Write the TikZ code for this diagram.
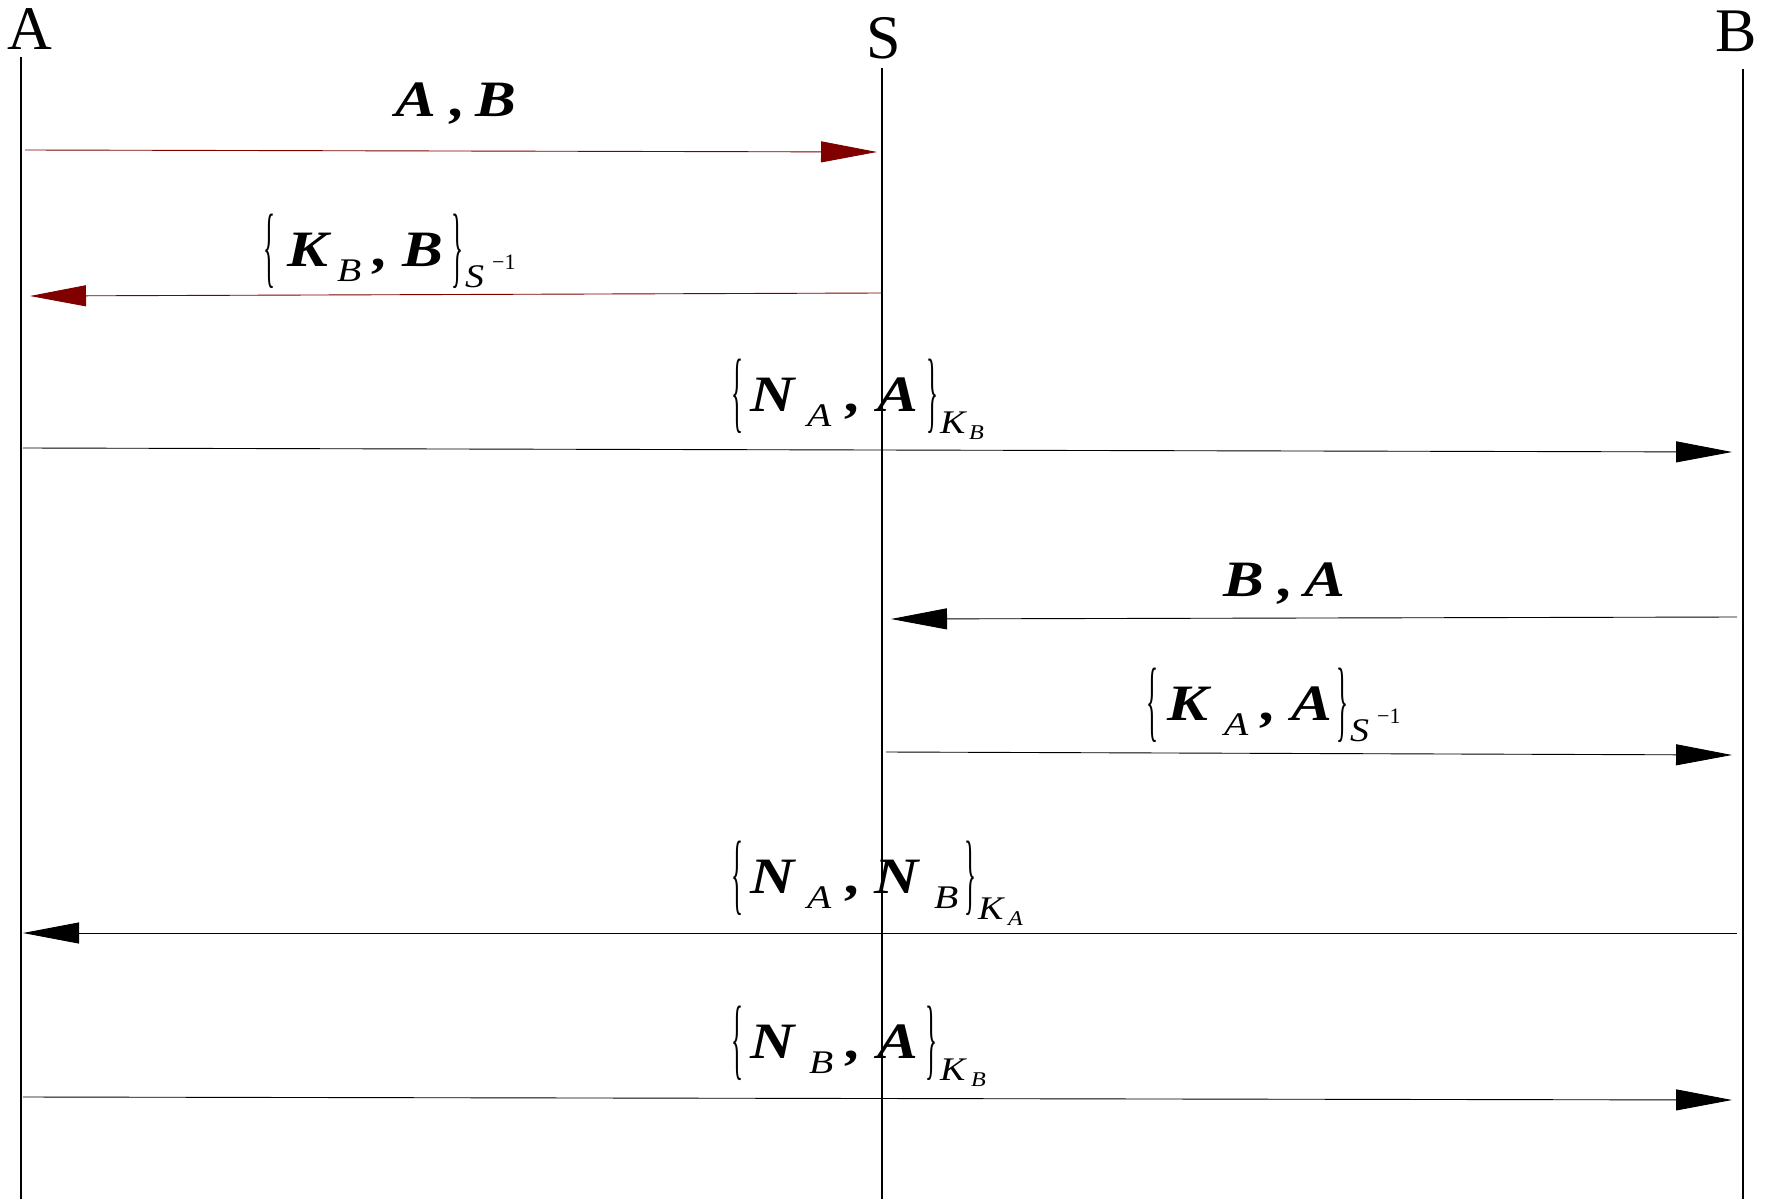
\documentclass[tikz,border=0pt]{standalone}
\usepackage{fontspec}
\setmainfont{Liberation Serif}
\usetikzlibrary{arrows.meta}
\definecolor{msgred}{RGB}{128,0,0}
% place a piece at an offset (x right, y up) from the label origin
\newcommand\pc[3]{\makebox[0pt][l]{\hspace*{#1pt}\raisebox{#2pt}{#3}}}
\newcommand\mm[1]{\scalebox{1.2}[1]{\fontsize{51}{51}\selectfont\bfseries\itshape #1}}
\newcommand\sm[1]{\scalebox{1.2}[1]{\fontsize{33}{33}\selectfont\itshape #1}}
\newcommand\ssm[1]{\scalebox{1.15}[1]{\fontsize{33}{33}\selectfont\itshape #1}}
\newcommand\sssm[1]{\scalebox{1.15}[1]{\fontsize{21}{21}\selectfont\itshape #1}}
\newcommand\supm[1]{{\fontsize{22}{22}\selectfont\upshape #1}}
\newcommand\lbr{\scalebox{0.5}[1.8]{\fontsize{50}{50}\selectfont\upshape\{}}
\newcommand\rbr{\scalebox{0.5}[1.8]{\fontsize{50}{50}\selectfont\upshape\}}}
\begin{document}
\begin{tikzpicture}[x=1pt,y=-1pt,
  lifeline/.style={line width=1.2pt,black},
  msg/.style={line width=0.9pt,-{Triangle[length=56pt,width=21pt]}},
  redmsg/.style={msg,msgred},
  head/.style={font=\fontsize{62}{62}\selectfont,anchor=base,inner sep=0pt},
  lbl/.style={anchor=base west,inner sep=0pt}]
\useasboundingbox[fill=white] (0,0) rectangle (1769,1199);
% participants
\node[head] (hA) at (30,50) {A};
\node[head] (hS) at (884,59) {S};
\node[head] (hB) at (1736,52) {B};
\coordinate (At) at (21,57);  \coordinate (Ab) at (21,1199);
\coordinate (St) at (882,68); \coordinate (Sb) at (882,1199);
\coordinate (Bt) at (1743,69);\coordinate (Bb) at (1743,1199);
\draw[lifeline] (At) -- (Ab);
\draw[lifeline] (St) -- (Sb);
\draw[lifeline] (Bt) -- (Bb);
% message 1
\coordinate (m1s) at (25,150); \coordinate (m1e) at (877,152);
\draw[redmsg] (m1s) -- (m1e);
\node[lbl] (l1) at (395,116) {\pc{0}{0}{\mm{A}}\pc{55}{0}{\mm{,}}\pc{80}{0}{\mm{B}}\hspace*{122pt}};
% message 2
\coordinate (m2s) at (881,293); \coordinate (m2e) at (30,296);
\draw[redmsg] (m2s) -- (m2e);
\node[lbl] (l2) at (263,266) {\pc{0}{-10}{\lbr}\pc{24}{0}{\mm{K}}\pc{74}{-15}{\sm{B}}\pc{110}{0}{\mm{,}}\pc{139}{0}{\mm{B}}\pc{188}{-10}{\rbr}\pc{202}{-21}{\ssm{S}}\pc{229}{-3}{\supm{−1}}\hspace*{255pt}};
% message 3
\coordinate (m3s) at (23,448); \coordinate (m3e) at (1732,452);
\draw[msg] (m3s) -- (m3e);
\node[lbl] (l3) at (731,411) {\pc{0}{-10}{\lbr}\pc{19}{0}{\mm{N}}\pc{76}{-15}{\sm{A}}\pc{115}{0}{\mm{,}}\pc{146}{0}{\mm{A}}\pc{195}{-10}{\rbr}\pc{209}{-22}{\ssm{K}}\pc{238}{-28}{\sssm{B}}\hspace*{254pt}};
% message 4
\coordinate (m4s) at (1737,617); \coordinate (m4e) at (891,619);
\draw[msg] (m4s) -- (m4e);
\node[lbl] (l4) at (1223,596) {\pc{0}{0}{\mm{B}}\pc{55}{0}{\mm{,}}\pc{81}{0}{\mm{A}}\hspace*{120pt}};
% message 5
\coordinate (m5s) at (886,752); \coordinate (m5e) at (1732,755);
\draw[msg] (m5s) -- (m5e);
\node[lbl] (l5) at (1146,720) {\pc{0}{-10}{\lbr}\pc{21}{0}{\mm{K}}\pc{78}{-15}{\sm{A}}\pc{115}{0}{\mm{,}}\pc{145}{0}{\mm{A}}\pc{190}{-10}{\rbr}\pc{204}{-21}{\ssm{S}}\pc{231}{-3}{\supm{−1}}\hspace*{256pt}};
% message 6
\coordinate (m6s) at (1737,933); \coordinate (m6e) at (23,933);
\draw[msg] (m6s) -- (m6e);
\node[lbl] (l6) at (731,893) {\pc{0}{-10}{\lbr}\pc{19}{0}{\mm{N}}\pc{76}{-15}{\sm{A}}\pc{115}{0}{\mm{,}}\pc{143}{0}{\mm{N}}\pc{203}{-15}{\sm{B}}\pc{233}{-10}{\rbr}\pc{247}{-26}{\ssm{K}}\pc{277}{-32}{\sssm{A}}\hspace*{294pt}};
% message 7
\coordinate (m7s) at (23,1097); \coordinate (m7e) at (1732,1100);
\draw[msg] (m7s) -- (m7e);
\node[lbl] (l7) at (731,1058) {\pc{0}{-10}{\lbr}\pc{19}{0}{\mm{N}}\pc{78}{-15}{\sm{B}}\pc{115}{0}{\mm{,}}\pc{146}{0}{\mm{A}}\pc{194}{-10}{\rbr}\pc{209}{-22}{\ssm{K}}\pc{240}{-28}{\sssm{B}}\hspace*{256pt}};
\end{tikzpicture}
\end{document}
